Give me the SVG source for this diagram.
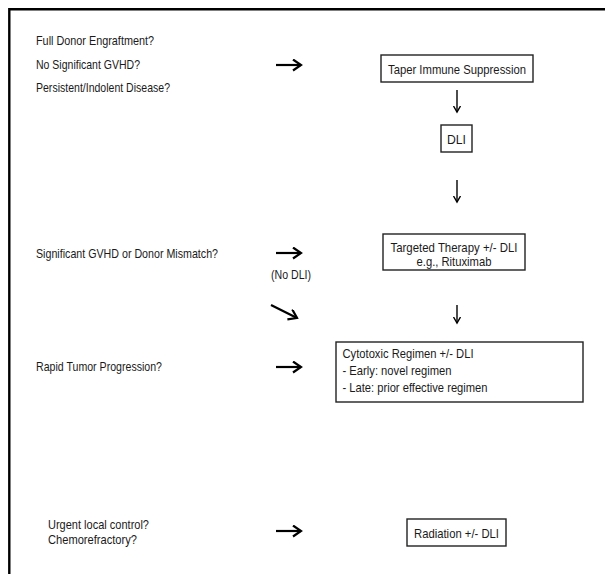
<svg xmlns="http://www.w3.org/2000/svg" width="605" height="574" viewBox="0 0 605 574">
<defs>
<marker id="headBig" markerUnits="userSpaceOnUse" markerWidth="14" markerHeight="14" refX="9" refY="6" orient="auto" viewBox="0 0 14 14">
<path d="M1,0.5 L9,6 L1,11.5" fill="none" stroke="#000" stroke-width="2.2" stroke-linejoin="miter"/>
</marker>
<marker id="headSmall" markerUnits="userSpaceOnUse" markerWidth="10" markerHeight="10" refX="6.5" refY="4" orient="auto" viewBox="0 0 10 10">
<path d="M0.5,0.5 L6.5,4 L0.5,7.5" fill="none" stroke="#000" stroke-width="1.4"/>
</marker>
</defs>
<style>
text{font-family:"Liberation Sans",Arial,Helvetica,sans-serif;font-size:13.5px;fill:#1a1a1a}
.box{fill:#fff;stroke:#222;stroke-width:1.4}
.big{fill:none;stroke:#000;stroke-width:2.2;marker-end:url(#headBig)}
.small{fill:none;stroke:#000;stroke-width:1.4;marker-end:url(#headSmall)}
.mid{text-anchor:middle}
</style>
<rect width="605" height="574" fill="#fff"/>
<path d="M9.3,574 V9.3 H605" fill="none" stroke="#000" stroke-width="2.4"/>

<g id="q1">
<text x="36" y="45" textLength="118" lengthAdjust="spacingAndGlyphs">Full Donor Engraftment?</text>
<text x="36" y="69" textLength="104" lengthAdjust="spacingAndGlyphs">No Significant GVHD?</text>
<text x="36" y="92" textLength="134" lengthAdjust="spacingAndGlyphs">Persistent/Indolent Disease?</text>
</g>
<g id="taper">
<rect class="box" x="381" y="55" width="152" height="27"/>
<text class="mid" x="457" y="73.5" textLength="138" lengthAdjust="spacingAndGlyphs">Taper Immune Suppression</text>
</g>
<g id="dli">
<rect class="box" x="441" y="125" width="31" height="27"/>
<text class="mid" x="456.5" y="143.5" textLength="19" lengthAdjust="spacingAndGlyphs">DLI</text>
</g>
<g id="q2">
<text x="36" y="258" textLength="182" lengthAdjust="spacingAndGlyphs">Significant GVHD or Donor Mismatch?</text>
</g>
<g id="targeted">
<rect class="box" x="383" y="234" width="142" height="36"/>
<text class="mid" x="454" y="251.5" textLength="127" lengthAdjust="spacingAndGlyphs">Targeted Therapy +/- DLI</text>
<text class="mid" x="454" y="265.5" textLength="75" lengthAdjust="spacingAndGlyphs">e.g., Rituximab</text>
</g>
<g id="nodli">
<text x="271" y="279" textLength="40" lengthAdjust="spacingAndGlyphs">(No DLI)</text>
</g>
<g id="q3">
<text x="36" y="371" textLength="126" lengthAdjust="spacingAndGlyphs">Rapid Tumor Progression?</text>
</g>
<g id="cytotoxic">
<rect class="box" x="336" y="342" width="247" height="60"/>
<text x="342.5" y="358" textLength="131" lengthAdjust="spacingAndGlyphs">Cytotoxic Regimen +/- DLI</text>
<text x="342.5" y="375" textLength="109" lengthAdjust="spacingAndGlyphs">- Early: novel regimen</text>
<text x="342.5" y="392" textLength="145" lengthAdjust="spacingAndGlyphs">- Late: prior effective regimen</text>
</g>
<g id="q4">
<text x="48" y="529" textLength="101" lengthAdjust="spacingAndGlyphs">Urgent local control?</text>
<text x="48" y="544" textLength="89" lengthAdjust="spacingAndGlyphs">Chemorefractory?</text>
</g>
<g id="radiation">
<rect class="box" x="407" y="519" width="99" height="27"/>
<text class="mid" x="456.5" y="537.5" textLength="85" lengthAdjust="spacingAndGlyphs">Radiation +/- DLI</text>
</g>

<g id="connectors">
<path class="big" d="M276,65 H301"/>
<path class="small" d="M457,90 V112"/>
<path class="small" d="M457,180 V202"/>
<path class="big" d="M276,253 H301"/>
<path class="big" d="M271,305 L297,318"/>
<path class="small" d="M457,305 V323"/>
<path class="big" d="M276,367 H301"/>
<path class="big" d="M276,531 H301"/>
</g>
</svg>
